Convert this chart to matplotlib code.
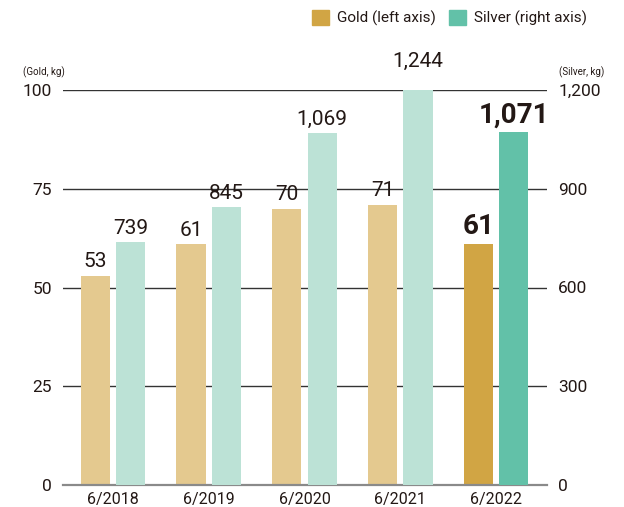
import matplotlib.pyplot as plt
import matplotlib.patches as mpatches
import numpy as np

plt.rcParams['font.family'] = ['Roboto', 'DejaVu Sans']

# data
periods = ['6/2018', '6/2019', '6/2020', '6/2021', '6/2022']
gold = [53, 61, 70, 71, 61]
silver = [739, 845, 1069, 1244, 1071]

gold_light, gold_dark = '#E4C98F', '#D1A544'
silver_light, silver_dark = '#BCE2D6', '#62C1A8'
text_col = '#231815'

fig = plt.figure(figsize=(6.24, 5.07), dpi=100)
ax = fig.add_axes([63 / 624, 1 - 485 / 507, (547 - 63) / 624, (485 - 90) / 507])
ax2 = ax.twinx()

x = np.arange(len(periods))
off, w = 0.185, 0.305
last = len(periods) - 1

gcols = [gold_dark if i == last else gold_light for i in x]
scols = [silver_dark if i == last else silver_light for i in x]
ax.bar(x - off, gold, w, color=gcols, zorder=2)
ax2.bar(x + off, silver, w, color=scols, zorder=2)

ax.set_xlim(-0.522, 4.533)
ax.set_ylim(0, 100)
ax2.set_ylim(0, 1200)
ax.set_yticks([0, 25, 50, 75, 100])
ax2.set_yticks([0, 300, 600, 900, 1200])
ax2.set_yticklabels(['0', '300', '600', '900', '1,200'])
ax.set_xticks(x)
ax.set_xticklabels(periods)

ax.grid(axis='y', color='#333333', linewidth=1, zorder=0)
for a in (ax, ax2):
    for s in a.spines.values():
        s.set_visible(False)
    a.tick_params(length=0, labelsize=12.5, colors=text_col)
ax.tick_params(axis='y', pad=8)
ax2.tick_params(axis='y', pad=8)
ax.tick_params(axis='x', pad=5, labelsize=11.5)
ax.axhline(0, color='#8a8a8a', linewidth=1.6, zorder=3, clip_on=False)

# value labels
for i in x:
    big = i == last
    fs = 20 if big else 15
    fw = 'bold' if big else 'normal'
    ax.annotate(f'{gold[i]}', (i - off, gold[i]), xytext=(0, 3), textcoords='offset points',
                ha='center', va='bottom', fontsize=fs, fontweight=fw, color=text_col,
                annotation_clip=False)
    ax2.annotate(f'{silver[i]:,}', (i + off, silver[i]), xytext=(0, 3), textcoords='offset points',
                 ha='center', va='bottom', fontsize=fs, fontweight=fw, color=text_col,
                 annotation_clip=False)

fig.text(44 / 624, 1 - 72 / 507, '(Gold, kg)', fontsize=7, ha='center', va='center', color=text_col)
fig.text(582 / 624, 1 - 72 / 507, '(Silver, kg)', fontsize=7, ha='center', va='center', color=text_col)

handles = [mpatches.Patch(color=gold_dark, label='Gold (left axis)'),
           mpatches.Patch(color=silver_dark, label='Silver (right axis)')]
leg = fig.legend(handles=handles, loc='upper right', bbox_to_anchor=(593 / 624, 1 - 4 / 507),
                 ncol=2, frameon=False, fontsize=11, handlelength=1.1, handleheight=1.1,
                 handletextpad=0.5, columnspacing=0.9, borderaxespad=0)
for t in leg.get_texts():
    t.set_color(text_col)

fig.savefig('out.png', dpi=100)
